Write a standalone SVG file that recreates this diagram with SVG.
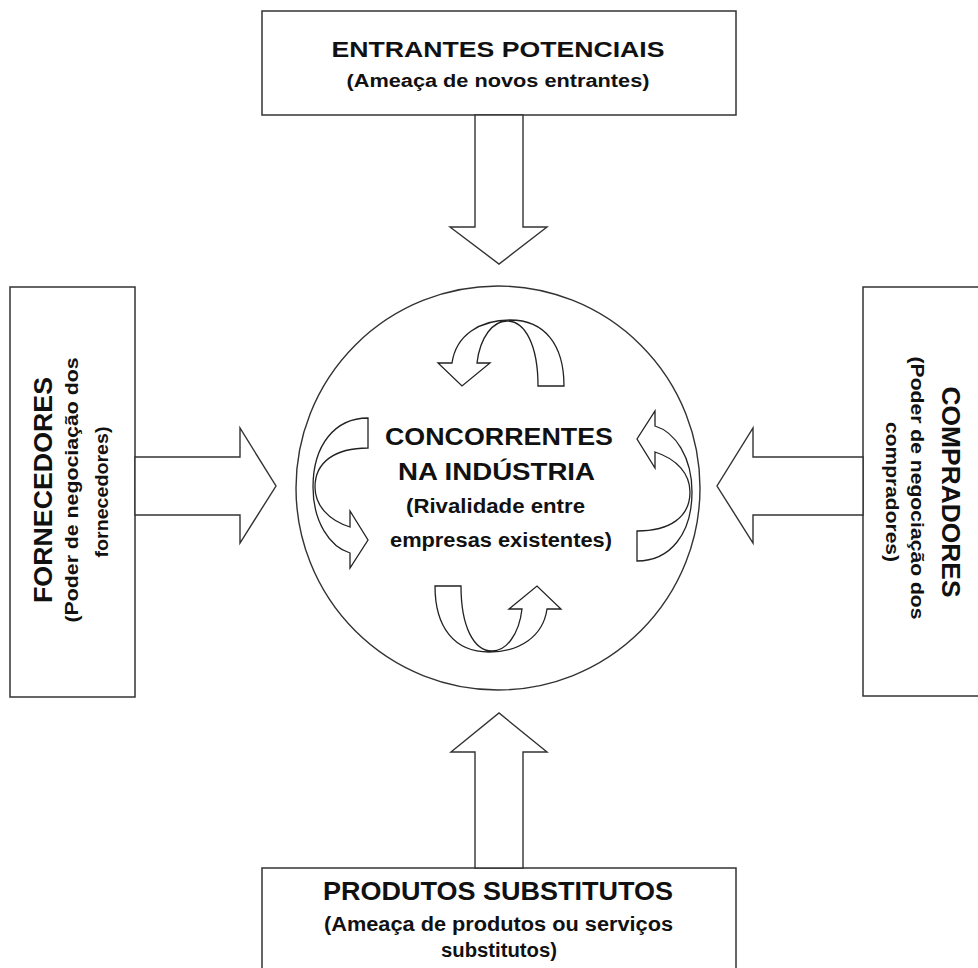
<svg xmlns="http://www.w3.org/2000/svg" xmlns:xlink="http://www.w3.org/1999/xlink" width="978" height="968" viewBox="0 0 978 968">
<style>
.box{fill:#fff;stroke:#333;stroke-width:1.5}
.arr{fill:#fff;stroke:#333;stroke-width:1.4;stroke-linejoin:miter}
.curl{fill:#fff;stroke:#222;stroke-width:1.3;stroke-linejoin:miter}
.ring{fill:#fff;stroke:#333;stroke-width:1.4}
text{font-family:"Liberation Sans",Arial,sans-serif;font-weight:bold;fill:#111;text-anchor:middle}
.t1{font-size:22.5px}
.t2{font-size:18px}
.t3{font-size:24px}
.t4{font-size:19.5px}
.t5{font-size:25px}
.t6{font-size:19.5px}
.v1{font-size:26px}
.v2{font-size:18.5px}
</style>
<defs>
<path id="curlTop" d="M538,386 L564,386 C564,345 545,320 510,320 C480,320 456,335 452,363 L438,363 L462,386 L490,363 L477,363 C480,337 493,321 507,321 C525,321 538,345 538,386 Z"/>
<path id="curlLeft" d="M368,448 L368,418 C335,418 313,445 313,487 C313,522 330,547 350,553 L350,568 L368,540 L350,511 L350,527 C328,520 315,505 315,487 C315,462 335,448 368,448 Z"/>
</defs>
<rect width="978" height="968" fill="#fff"/>

<g id="entrantes">
<rect class="box" x="262" y="11" width="474" height="104"/>
<text class="t1" x="498" y="57" textLength="333" lengthAdjust="spacingAndGlyphs">ENTRANTES POTENCIAIS</text>
<text class="t2" x="498" y="87" textLength="303" lengthAdjust="spacingAndGlyphs">(Ameaça de novos entrantes)</text>
</g>

<g id="fornecedores">
<rect class="box" x="10" y="287" width="125" height="410"/>
<text class="v1" transform="translate(52,490) rotate(-90)" textLength="226" lengthAdjust="spacingAndGlyphs">FORNECEDORES</text>
<text class="v2" transform="translate(78,490) rotate(-90)" textLength="265" lengthAdjust="spacingAndGlyphs">(Poder de negociação dos</text>
<text class="v2" transform="translate(108,492) rotate(-90)" textLength="131" lengthAdjust="spacingAndGlyphs">fornecedores)</text>
</g>

<g id="compradores">
<rect class="box" x="863" y="287" width="130" height="409"/>
<text class="v1" transform="translate(942,492) rotate(90)" textLength="211" lengthAdjust="spacingAndGlyphs">COMPRADORES</text>
<text class="v2" transform="translate(911,488) rotate(90)" textLength="263" lengthAdjust="spacingAndGlyphs">(Poder de negociação dos</text>
<text class="v2" transform="translate(886,492) rotate(90)" textLength="140" lengthAdjust="spacingAndGlyphs">compradores)</text>
</g>

<g id="substitutos">
<rect class="box" x="262" y="868" width="474" height="120"/>
<text class="t5" x="498" y="900" textLength="350" lengthAdjust="spacingAndGlyphs">PRODUTOS SUBSTITUTOS</text>
<text class="t6" x="498.5" y="931" textLength="349" lengthAdjust="spacingAndGlyphs">(Ameaça de produtos ou serviços</text>
<text class="t6" x="499" y="957" textLength="116" lengthAdjust="spacingAndGlyphs">substitutos)</text>
</g>

<g id="concorrentes">
<circle class="ring" cx="498" cy="488" r="202"/>
<use xlink:href="#curlTop" class="curl"/>
<use xlink:href="#curlTop" class="curl" transform="rotate(180 499.5 486)"/>
<use xlink:href="#curlLeft" class="curl"/>
<use xlink:href="#curlLeft" class="curl" transform="rotate(180 502.5 489.5)"/>
<text class="t3" x="499" y="445" textLength="228" lengthAdjust="spacingAndGlyphs">CONCORRENTES</text>
<text class="t3" x="496.5" y="480" textLength="197" lengthAdjust="spacingAndGlyphs">NA INDÚSTRIA</text>
<text class="t4" x="495.5" y="513" textLength="179" lengthAdjust="spacingAndGlyphs">(Rivalidade entre</text>
<text class="t4" x="501" y="547" textLength="222" lengthAdjust="spacingAndGlyphs">empresas existentes)</text>
</g>

<g id="connectors">
<path class="arr" d="M475,115 L475,227 L450,227 L499,264 L547,227 L523,227 L523,115 Z"/>
<path class="arr" d="M135,457 L240,457 L240,428 L276,486 L240,543 L240,515 L135,515 Z"/>
<path class="arr" d="M863,457 L753,457 L753,428 L717,486 L753,543 L753,515 L863,515 Z"/>
<path class="arr" d="M475,868 L475,752 L451,752 L499,713 L547,752 L523,752 L523,868 Z"/>
</g>
</svg>
